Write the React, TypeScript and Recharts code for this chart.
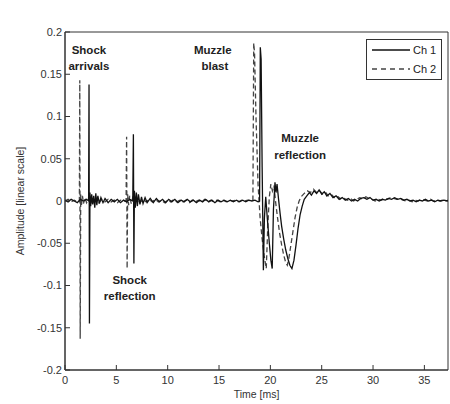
import React from 'react';
import { LineChart, Line, XAxis, YAxis, Legend, ReferenceDot, ReferenceArea } from 'recharts';

// [time ms, amplitude]
const ch1Points: number[][] = [
  [0.0, 0.001], [0.3, -0.001], [0.6, 0.002], [0.9, 0.0], [1.2, -0.002], [1.5, 0.002], [1.8, 0.0], [2.1, 0.002],
  [2.3, 0.0], [2.34, 0.138], [2.38, -0.145], [2.43, 0.01], [2.5, -0.006], [2.6, 0.008], [2.7, -0.004], [2.8, 0.006],
  [2.9, -0.008], [3.0, 0.009], [3.1, -0.005], [3.2, 0.006], [3.35, -0.003], [3.5, 0.004], [3.7, -0.002], [3.9, 0.003],
  [4.2, -0.002], [4.5, 0.002], [4.8, -0.001], [5.1, 0.002], [5.4, -0.002], [5.7, 0.001], [6.0, -0.001], [6.3, 0.002],
  [6.6, 0.0], [6.66, 0.079], [6.71, -0.074], [6.76, 0.012], [6.85, -0.008], [6.95, 0.01], [7.05, -0.006], [7.15, 0.008],
  [7.3, -0.004], [7.45, 0.005], [7.6, -0.003], [7.8, 0.004], [8.0, -0.002], [8.3, 0.003], [8.6, -0.002], [8.9, 0.003],
  [9.2, -0.001], [9.5, 0.002], [9.8, -0.002], [10.1, 0.002], [10.4, -0.001], [10.7, 0.002], [11.0, -0.002], [11.3, 0.001],
  [11.6, -0.001], [11.9, 0.002], [12.2, -0.001], [12.5, 0.001], [12.8, -0.002], [13.1, 0.001], [13.4, -0.001], [13.7, 0.002],
  [14.0, -0.001], [14.3, 0.001], [14.6, -0.002], [14.9, 0.001], [15.2, -0.001], [15.5, 0.001], [15.8, -0.001], [16.1, 0.001],
  [16.4, -0.001], [16.7, 0.001], [17.0, -0.001], [17.3, 0.001], [17.6, -0.001], [17.9, 0.001], [18.2, 0.0], [18.5, 0.001],
  [18.8, -0.001], [18.95, 0.0], [19.02, 0.182], [19.1, 0.168], [19.2, 0.04], [19.32, -0.082], [19.42, -0.02], [19.55, 0.005],
  [19.7, -0.02], [19.9, -0.05], [20.05, -0.07], [20.18, -0.08], [20.3, -0.01], [20.45, 0.022], [20.55, 0.01], [20.65, 0.02],
  [20.8, 0.002], [20.95, -0.015], [21.1, -0.03], [21.3, -0.045], [21.5, -0.058], [21.7, -0.068], [21.9, -0.076], [22.1, -0.08],
  [22.3, -0.07], [22.5, -0.052], [22.7, -0.032], [22.9, -0.016], [23.1, -0.006], [23.3, 0.002], [23.55, 0.006], [23.8, 0.01],
  [24.0, 0.007], [24.25, 0.012], [24.5, 0.009], [24.75, 0.013], [25.0, 0.008], [25.25, 0.011], [25.5, 0.006], [25.8, 0.009],
  [26.1, 0.004], [26.4, 0.006], [26.7, 0.002], [27.0, 0.004], [27.3, 0.001], [27.6, 0.003], [27.9, 0.0], [28.2, 0.002],
  [28.5, 0.0], [28.8, 0.003], [29.1, 0.004], [29.4, 0.002], [29.7, 0.004], [30.0, 0.001], [30.3, 0.002], [30.6, 0.0],
  [30.9, 0.002], [31.2, 0.001], [31.5, 0.003], [31.8, 0.002], [32.1, 0.004], [32.4, 0.002], [32.7, 0.003], [33.0, 0.001],
  [33.3, 0.002], [33.6, 0.0], [33.9, 0.001], [34.2, -0.001], [34.5, 0.001], [34.8, 0.0], [35.1, 0.002], [35.4, 0.0],
  [35.7, 0.001], [36.0, -0.001], [36.3, 0.001], [36.6, 0.0], [36.9, 0.001], [37.3, 0.0],
];

const ch2Points: number[][] = [
  [0.0, 0.0], [0.3, 0.002], [0.6, -0.001], [0.9, 0.001], [1.2, -0.001], [1.4, 0.0], [1.44, 0.143], [1.48, -0.163],
  [1.53, 0.008], [1.6, -0.005], [1.7, 0.006], [1.8, -0.003], [1.95, 0.004], [2.1, -0.002], [2.3, 0.003], [2.5, -0.004],
  [2.7, 0.005], [2.9, -0.003], [3.1, 0.003], [3.3, -0.002], [3.6, 0.002], [3.9, -0.001], [4.2, 0.002], [4.5, -0.001],
  [4.8, 0.001], [5.1, -0.002], [5.4, 0.001], [5.7, 0.0], [5.95, 0.0], [6.0, 0.076], [6.05, -0.08], [6.1, 0.008],
  [6.2, -0.005], [6.3, 0.006], [6.45, -0.003], [6.6, 0.004], [6.8, -0.002], [7.0, 0.003], [7.3, -0.002], [7.6, 0.002],
  [7.9, -0.001], [8.2, 0.002], [8.5, -0.001], [8.8, 0.002], [9.1, -0.001], [9.4, 0.001], [9.7, -0.002], [10.0, 0.001],
  [10.3, -0.001], [10.6, 0.002], [10.9, -0.001], [11.2, 0.001], [11.5, -0.001], [11.8, 0.001], [12.1, -0.002], [12.4, 0.001],
  [12.7, -0.001], [13.0, 0.001], [13.3, -0.001], [13.6, 0.002], [13.9, -0.001], [14.2, 0.001], [14.5, -0.001], [14.8, 0.001],
  [15.1, -0.001], [15.4, 0.001], [15.7, -0.001], [16.0, 0.001], [16.3, 0.0], [16.6, 0.001], [16.9, -0.001], [17.2, 0.001],
  [17.5, 0.0], [17.8, 0.001], [18.1, 0.0], [18.3, 0.001], [18.38, 0.187], [18.46, 0.175], [18.6, 0.1], [18.8, 0.02],
  [19.0, -0.02], [19.2, -0.045], [19.4, -0.065], [19.6, -0.08], [19.75, -0.03], [19.9, 0.005], [20.05, 0.02], [20.2, 0.012],
  [20.35, 0.018], [20.5, 0.0], [20.7, -0.02], [20.9, -0.038], [21.1, -0.052], [21.3, -0.064], [21.5, -0.073], [21.65, -0.076],
  [21.8, -0.068], [22.0, -0.052], [22.2, -0.036], [22.4, -0.02], [22.6, -0.008], [22.8, 0.0], [23.0, 0.005], [23.3, 0.009],
  [23.6, 0.012], [23.9, 0.01], [24.2, 0.014], [24.5, 0.01], [24.8, 0.012], [25.1, 0.008], [25.4, 0.01], [25.7, 0.005],
  [26.0, 0.007], [26.3, 0.003], [26.6, 0.005], [26.9, 0.002], [27.2, 0.003], [27.5, 0.001], [27.8, 0.003], [28.1, 0.0],
  [28.4, 0.002], [28.7, 0.004], [29.0, 0.002], [29.3, 0.005], [29.6, 0.003], [29.9, 0.002], [30.2, 0.0], [30.5, 0.002],
  [30.8, 0.001], [31.1, 0.003], [31.4, 0.002], [31.7, 0.004], [32.0, 0.003], [32.3, 0.002], [32.6, 0.003], [32.9, 0.001],
  [33.2, 0.0], [33.5, 0.001], [33.8, -0.001], [34.1, 0.001], [34.4, 0.0], [34.7, 0.002], [35.0, 0.001], [35.3, 0.0],
  [35.6, 0.002], [35.9, 0.0], [36.2, 0.001], [36.5, 0.0], [36.8, 0.001], [37.1, 0.0], [37.3, 0.001],
];

const xTicks = [0, 5, 10, 15, 20, 25, 30, 35];
const yTicks = [-0.2, -0.15, -0.1, -0.05, 0, 0.05, 0.1, 0.15, 0.2];
const xDomain = [0, 37.3];
const yDomain = [-0.2, 0.2];

const seriesNames = ['Ch 1', 'Ch 2'];

const annotations = [
  { x: 2.33, y: 0.179, text: 'Shock' },
  { x: 2.33, y: 0.16, text: 'arrivals' },
  { x: 14.4, y: 0.179, text: 'Muzzle' },
  { x: 14.6, y: 0.16, text: 'blast' },
  { x: 22.9, y: 0.0746, text: 'Muzzle' },
  { x: 22.9, y: 0.0544, text: 'reflection' },
  { x: 6.3, y: -0.0935, text: 'Shock' },
  { x: 6.3, y: -0.112, text: 'reflection' },
];

const ch1Data = ch1Points.map(([t, a]) => ({ t, a }));
const ch2Data = ch2Points.map(([t, a]) => ({ t, a }));

const FONT = '"Liberation Sans", Arial, sans-serif';
const AXIS_COLOR = '#333';
const tickStyle = { fill: '#333', fontSize: 11, fontFamily: FONT };

const fmtY = (v: number) => String(Number(v.toFixed(2)));

const LegendBox = () => (
  <svg width={76} height={41} style={{ display: 'block' }}>
    <rect x={0.5} y={0.5} width={75} height={40} fill="#fff" stroke="#333" strokeWidth={1} />
    <line x1={6} y1={11} x2={44} y2={11} stroke="#111" strokeWidth={1.3} />
    <text x={47} y={11} dominantBaseline="central" fontSize={11} fontFamily={FONT} fill="#222">{seriesNames[0]}</text>
    <line x1={6} y1={30} x2={44} y2={30} stroke="#444" strokeWidth={1.3} strokeDasharray="5 4" />
    <text x={47} y={30} dominantBaseline="central" fontSize={11} fontFamily={FONT} fill="#222">{seriesNames[1]}</text>
  </svg>
);

export default function App() {
  return (
    <div style={{ position: 'absolute', left: 0, top: 0, width: 450, height: 404, background: '#fff' }}>
      <LineChart width={450} height={404} data={ch1Data} margin={{ top: 32, right: 2, bottom: 0, left: 0 }}>
        <XAxis
          dataKey="t"
          type="number"
          domain={xDomain}
          ticks={xTicks}
          allowDataOverflow
          height={34}
          tickSize={-5}
          tickMargin={11}
          stroke={AXIS_COLOR}
          tick={tickStyle}
          label={{
            content: (p: any) => {
              const vb = p.viewBox || {};
              return (
                <text x={vb.x + vb.width / 2} y={vb.y + 24} textAnchor="middle" dominantBaseline="central" fontSize={10.5} fontFamily={FONT} fill="#333">
                  Time [ms]
                </text>
              );
            },
          }}
        />
        <XAxis
          xAxisId="top"
          dataKey="t"
          orientation="top"
          type="number"
          domain={xDomain}
          ticks={xTicks}
          allowDataOverflow
          height={0}
          tickSize={-5}
          stroke={AXIS_COLOR}
          tickFormatter={() => ''}
        />
        <YAxis
          type="number"
          domain={yDomain}
          ticks={yTicks}
          allowDataOverflow
          width={65}
          tickSize={-5}
          tickMargin={8}
          stroke={AXIS_COLOR}
          tick={tickStyle}
          tickFormatter={fmtY}
          label={{
            content: (p: any) => {
              const vb = p.viewBox || {};
              const cy = vb.y + vb.height / 2;
              return (
                <text x={20} y={cy} transform={`rotate(-90, 20, ${cy})`} textAnchor="middle" dominantBaseline="central" fontSize={10.5} fontFamily={FONT} fill="#333">
                  Amplitude [linear scale]
                </text>
              );
            },
          }}
        />
        <YAxis
          yAxisId="right"
          orientation="right"
          type="number"
          domain={yDomain}
          ticks={yTicks}
          allowDataOverflow
          width={0}
          tickSize={-5}
          stroke={AXIS_COLOR}
          tickFormatter={() => ''}
        />
        <ReferenceArea
          x1={xDomain[0]}
          x2={xDomain[1]}
          y1={yDomain[0]}
          y2={yDomain[1]}
          fill="none"
          fillOpacity={0}
          stroke={AXIS_COLOR}
          strokeWidth={1}
          ifOverflow="visible"
        />
        {/* carrier series (no visible stroke) that binds the top and right frame axes */}
        <Line
          xAxisId="top"
          yAxisId="right"
          data={ch1Data}
          dataKey="a"
          stroke="none"
          legendType="none"
          dot={false}
          activeDot={false}
          isAnimationActive={false}
        />
        <Line
          data={ch2Data}
          dataKey="a"
          name={seriesNames[1]}
          type="linear"
          stroke="#444"
          strokeWidth={1.3}
          strokeDasharray="5 3"
          dot={false}
          activeDot={false}
          isAnimationActive={false}
        />
        <Line
          data={ch1Data}
          dataKey="a"
          name={seriesNames[0]}
          type="linear"
          stroke="#111"
          strokeWidth={1.3}
          dot={false}
          activeDot={false}
          isAnimationActive={false}
        />
        {annotations.map((a, i) => (
          <ReferenceDot
            key={i}
            x={a.x}
            y={a.y}
            r={0}
            ifOverflow="visible"
            shape={(p: any) => (
              <text x={p.cx} y={p.cy} textAnchor="middle" dominantBaseline="central" fontSize={11.5} fontWeight="bold" fontFamily={FONT} fill="#222">
                {a.text}
              </text>
            )}
          />
        ))}
        <Legend
          layout="horizontal"
          verticalAlign="middle"
          align="center"
          wrapperStyle={{ left: 366, top: 39, width: 76, height: 41 }}
          content={() => <LegendBox />}
        />
      </LineChart>
    </div>
  );
}
